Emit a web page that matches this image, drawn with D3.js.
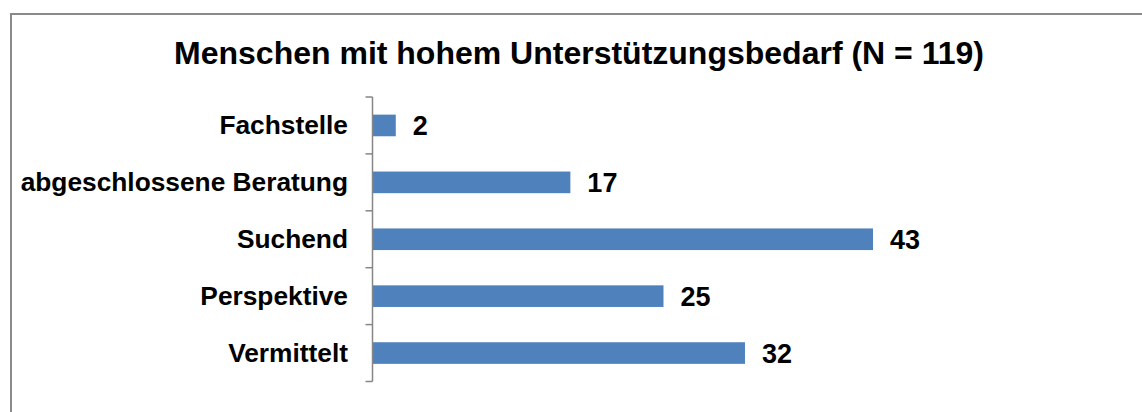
<!DOCTYPE html>
<html><head><meta charset="utf-8">
<script src="https://cdn.jsdelivr.net/npm/d3@7"></script>
<style>html,body{margin:0;padding:0;background:#fff;}svg{display:block;}</style>
</head><body>
<svg id="c" width="1142" height="412"></svg>
<script>
const categories = ["Fachstelle", "abgeschlossene Beratung", "Suchend", "Perspektive", "Vermittelt"];
const values = [2, 17, 43, 25, 32];
const title = "Menschen mit hohem Unterstützungsbedarf (N = 119)";

const svg = d3.select("#c");
const font = "'Liberation Sans', Arial, sans-serif";

svg.append("rect").attr("x", 11).attr("y", 14).attr("width", 1200).attr("height", 500)
  .attr("fill", "#fff").attr("stroke", "#8a8a8a").attr("stroke-width", 2);

svg.append("text").attr("x", 579).attr("y", 64).attr("text-anchor", "middle")
  .attr("font-family", font).attr("font-weight", "bold").attr("font-size", 32)
  .text(title);

const x0 = 372.5;
const x = d3.scaleLinear().domain([0, 43]).range([x0, 873]);
const y = d3.scaleBand().domain(categories).range([97, 381.5]).paddingInner(0.62).paddingOuter(0.31);

// bars
svg.append("g").selectAll("rect").data(values).join("rect")
  .attr("x", x(0)).attr("y", (d, i) => y(categories[i]))
  .attr("width", d => x(d) - x(0)).attr("height", y.bandwidth())
  .attr("fill", "#4F81BD");

// value labels
svg.append("g").selectAll("text").data(values).join("text")
  .attr("x", d => x(d) + 17).attr("y", (d, i) => y(categories[i]) + y.bandwidth() / 2 + 9.5)
  .attr("font-family", font).attr("font-weight", "bold").attr("font-size", 27)
  .text(d => d);

// axis line and ticks
const ax = svg.append("g").attr("stroke", "#868686").attr("stroke-width", 1.5);
ax.append("line").attr("x1", x0).attr("x2", x0).attr("y1", 97).attr("y2", 381.5);
const bounds = d3.range(categories.length + 1).map(i => 97 + i * (381.5 - 97) / categories.length);
ax.selectAll("line.t").data(bounds).join("line").attr("class", "t")
  .attr("x1", x0 - 7).attr("x2", x0).attr("y1", d => d).attr("y2", d => d);

// category labels
svg.append("g").selectAll("text").data(categories).join("text")
  .attr("x", 348).attr("y", d => y(d) + y.bandwidth() / 2 + 9)
  .attr("text-anchor", "end")
  .attr("font-family", font).attr("font-weight", "bold").attr("font-size", 26.3)
  .text(d => d);
</script>
</body></html>
